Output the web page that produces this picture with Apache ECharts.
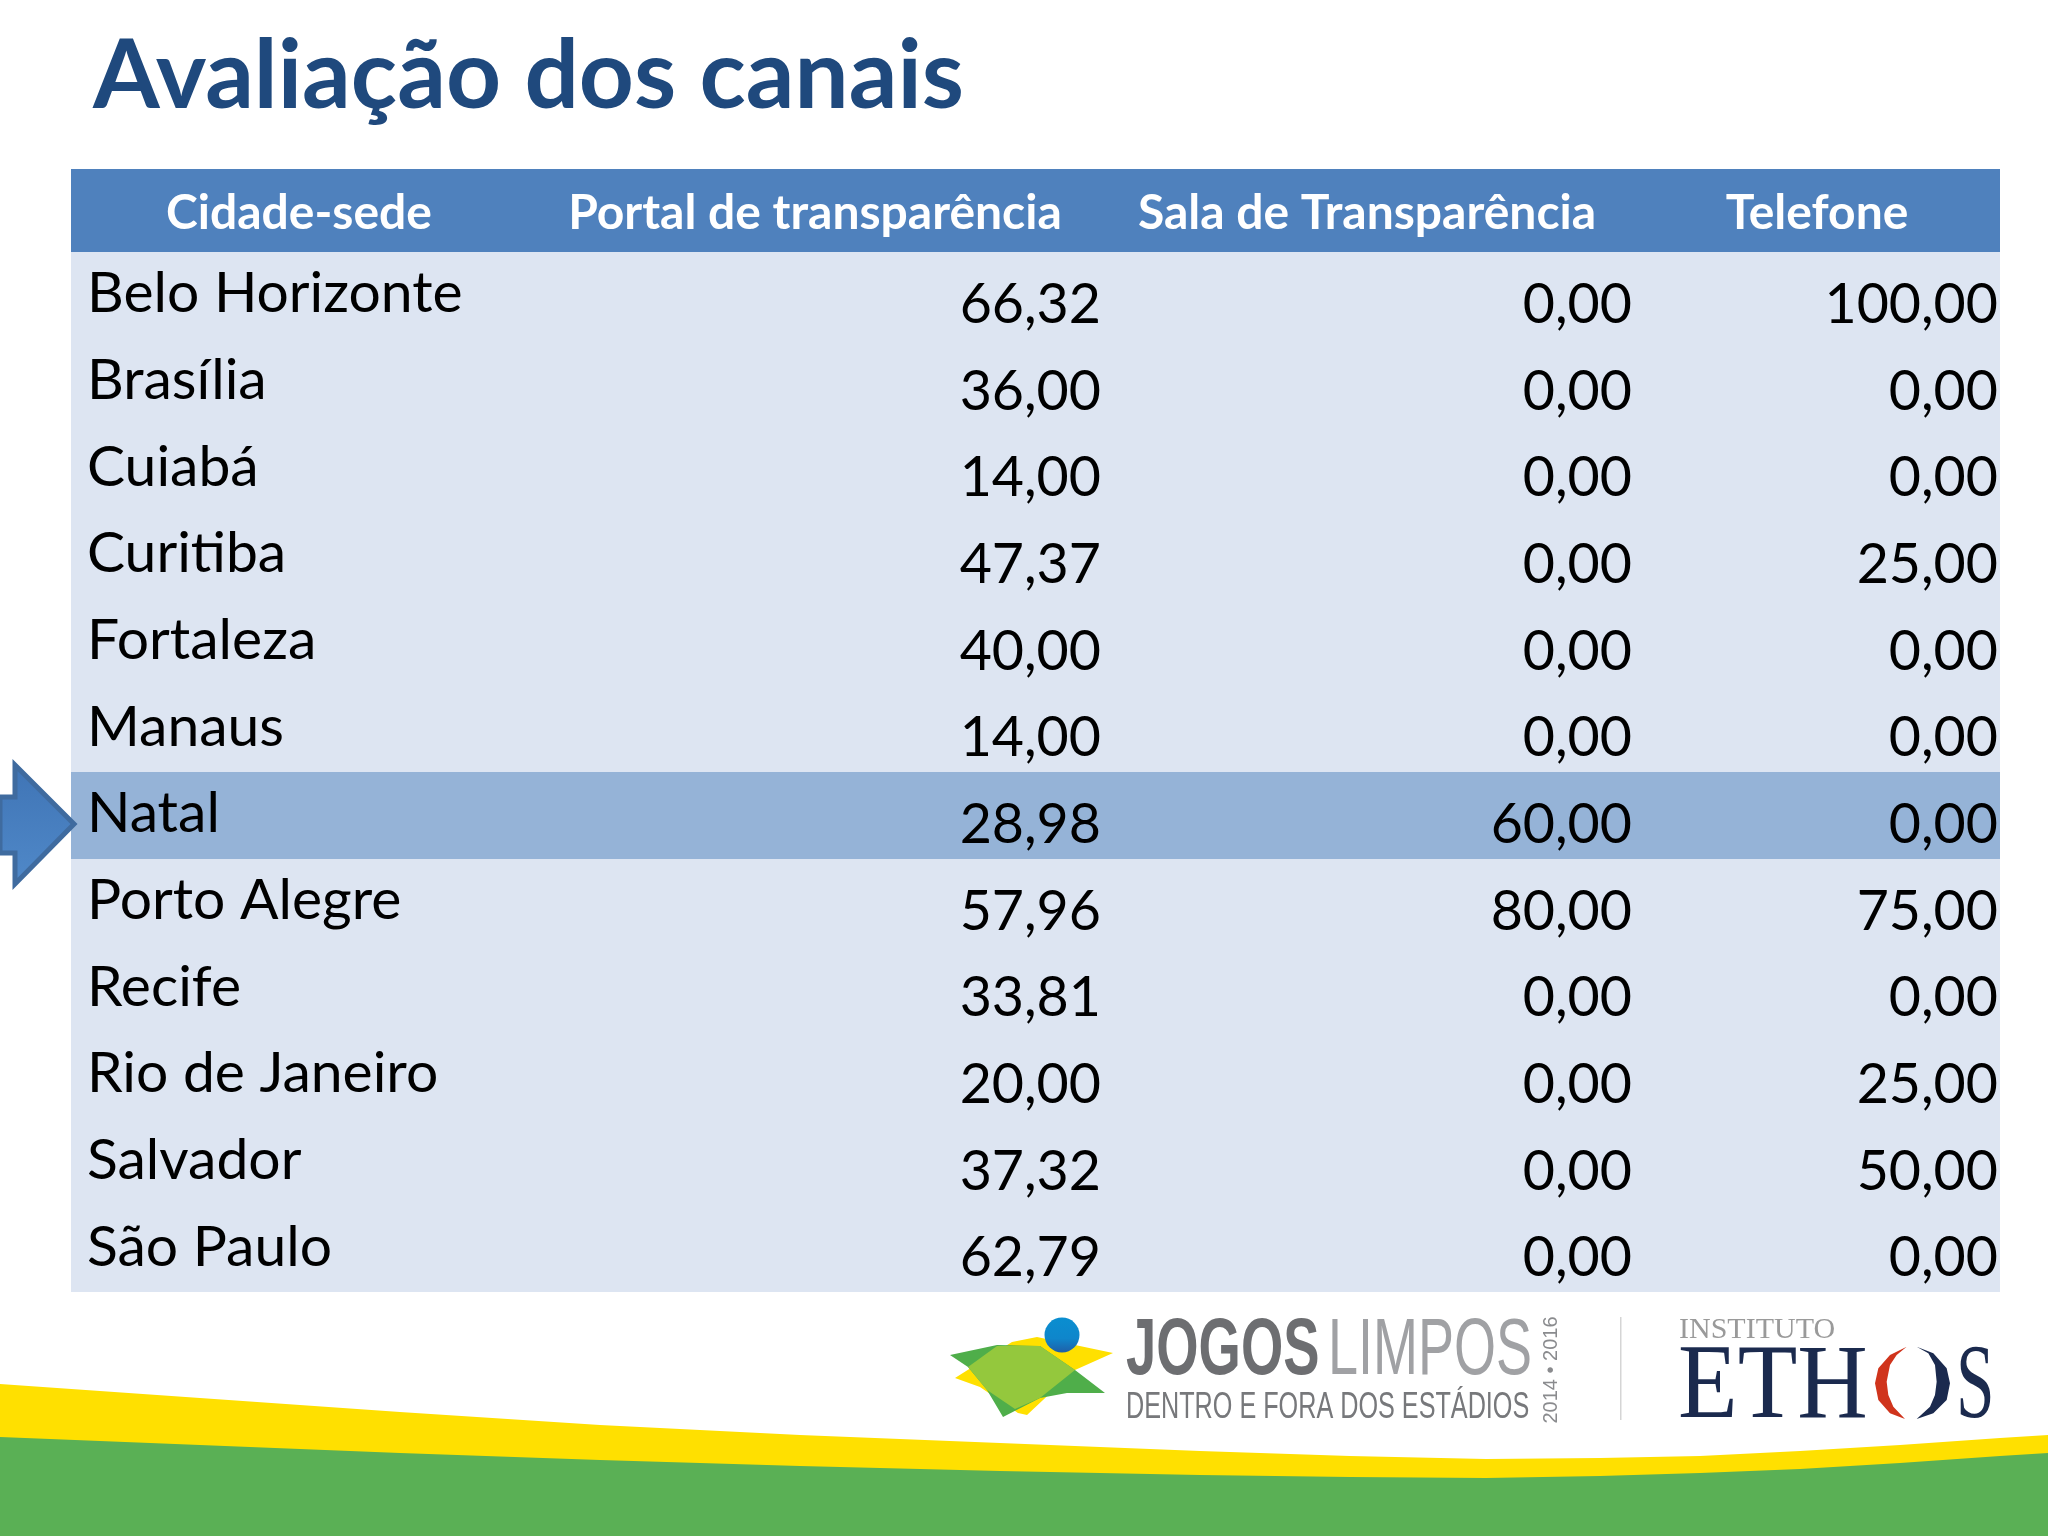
<!DOCTYPE html>
<html><head><meta charset="utf-8">
<style>html,body{margin:0;padding:0;background:#fff}#c{width:2048px;height:1536px}</style>
<script src="https://cdn.jsdelivr.net/npm/echarts@6/dist/echarts.min.js"></script>
</head><body><div id="c"></div>
<script>
const titleText = 'Avaliação dos canais';
const headers = ['Cidade-sede', 'Portal de transparência', 'Sala de Transparência', 'Telefone'];
const cities = ['Belo Horizonte','Brasília','Cuiabá','Curitiba','Fortaleza','Manaus','Natal','Porto Alegre','Recife','Rio de Janeiro','Salvador','São Paulo'];
const portal = [66.32,36.00,14.00,47.37,40.00,14.00,28.98,57.96,33.81,20.00,37.32,62.79];
const sala = [0,0,0,0,0,0,60,80,0,0,0,0];
const telefone = [100,0,0,25,0,0,0,75,0,25,50,0];
const highlightCity = 'Natal';

const FONT = 'Lato';
const tableLeft = 71, tableRight = 2000;
const headerCentres = [299, 815, 1367, 1817];
const valueRights = [1101, 1632, 1998];
const cityLeft = 87;
const fmt = v => v.toFixed(2).replace('.', ',');
const chart = echarts.init(document.getElementById('c'));

function renderRow(params, api) {
  const i = api.value(0);
  const a = api.coord([tableLeft, i]), b = api.coord([tableRight, i + 1]);
  const top = Math.round(a[1]), bottom = Math.round(b[1]);
  const kids = [{
    type: 'rect',
    shape: {x: a[0], y: top, width: b[0] - a[0], height: bottom - top},
    style: {fill: cities[i] === highlightCity ? '#95b3d7' : '#dde5f2'}
  }, {
    type: 'text', z2: 5,
    style: {x: cityLeft, y: a[1] + 42, text: cities[i], font: '57px ' + FONT, fill: '#000', align: 'left', verticalAlign: 'middle'}
  }];
  [portal[i], sala[i], telefone[i]].forEach((v, k) => kids.push({
    type: 'text', z2: 5,
    style: {x: valueRights[k], y: a[1] + 53, text: fmt(v), font: '55.5px ' + FONT, fill: '#000', align: 'right', verticalAlign: 'middle'}
  }));
  return {type: 'group', children: kids};
}
function renderHeader(params, api) {
  const a = api.coord([tableLeft, -0.958]), b = api.coord([tableRight, 0]);
  const kids = [{type: 'rect', shape: {x: a[0], y: a[1], width: b[0] - a[0], height: b[1] - a[1]}, style: {fill: '#4f81bd'}}];
  headers.forEach((h, k) => kids.push({
    type: 'text', z2: 5,
    style: {x: headerCentres[k], y: 214, text: h, font: 'bold 48px ' + FONT, fill: '#fff', align: 'center', verticalAlign: 'middle'}
  }));
  return {type: 'group', children: kids};
}
const zoomEthos = pts => pts.map(p => [1660 + p[0] / 3, 1300 + p[1] / 3]);
const deco = [
  {type:'polygon', z:1, shape:{points:[[0,1384],[100,1391],[200,1398],[400,1412],[600,1425],[800,1435],[1000,1443],[1200,1451],[1350,1456],[1486,1459],[1600,1458],[1700,1456],[1800,1451],[1900,1445],[2000,1438],[2048,1435],[2048,1536],[0,1536]]}, style:{fill:'#ffe000'}},
  {type:'polygon', z:2, shape:{points:[[0,1437],[200,1445],[400,1453],[600,1460],[800,1466],[1000,1471],[1200,1475],[1350,1477],[1486,1478],[1600,1476],[1700,1473],[1800,1469],[1900,1463],[2000,1456],[2048,1453],[2048,1536],[0,1536]]}, style:{fill:'#5ab055'}},
  {type:'polygon', z:20, shape:{points:[[0,797],[15,797],[15,765],[74,824],[15,884],[15,853],[0,853]]},
    style:{fill:new echarts.graphic.LinearGradient(0,0,0,1,[{offset:0,color:'#3f74b5'},{offset:1,color:'#5089c9'}]), stroke:'#3f6b9f', lineWidth:5}},
  // emblem
  {type:'polygon', z:3, shape:{points:[[955,1378],[1012,1342],[1037,1337],[1113,1353],[1075,1370],[1027,1415],[1018,1413],[980,1387]]}, style:{fill:'#ffe000'}},
  {type:'polygon', z:4, shape:{points:[[950,1355],[997,1345],[1040,1346],[1075,1370],[1105,1393],[1067,1393],[1040,1398],[1003,1417],[987,1390],[968,1367]]}, style:{fill:'#4fae4a'}},
  {type:'polygon', z:5, shape:{points:[[968,1367],[997,1346],[1040,1346],[1075,1370],[1040,1398],[1015,1409],[987,1390]]}, style:{fill:'#94c83d'}},
  {type:'circle', z:6, shape:{cx:1062,cy:1335,r:17.5}, style:{fill:new echarts.graphic.LinearGradient(0,0,0,1,[{offset:0,color:'#0a8ed0'},{offset:0.6,color:'#0f86cb'},{offset:1,color:'#1f5fa8'}])}},
  // logo text
  {type:'text', z:6, x:1126, y:1352, scaleX:0.68, style:{text:'JOGOS', font:'bold 80px "Liberation Sans"', fill:'#6d6e71', verticalAlign:'middle'}},
  {type:'text', z:6, x:1328, y:1352, scaleX:0.675, style:{text:'LIMPOS', font:'80px "Liberation Sans"', fill:'#a0a1a4', verticalAlign:'middle'}},
  {type:'text', z:6, x:1126, y:1408, scaleX:0.70, style:{text:'DENTRO E FORA DOS ESTÁDIOS', font:'36px "Liberation Sans"', fill:'#77787b', verticalAlign:'middle'}},
  {type:'text', z:6, x:1551, y:1370, rotation:Math.PI/2, style:{text:'2014 • 2016', font:'20px "Liberation Sans"', fill:'#8a8b8e', align:'center', verticalAlign:'middle'}},
  {type:'rect', z:6, shape:{x:1620,y:1317,width:1.5,height:103}, style:{fill:'#d5d5d5'}},
  {type:'text', z:6, x:1679, y:1330, style:{text:'INSTITUTO', font:'30px "Liberation Serif"', fill:'#9a9a9a', verticalAlign:'middle'}},
  {type:'text', z:6, x:1678, y:1389, scaleX:0.93, style:{text:'ETH', font:'105px "Liberation Serif"', fill:'#1b2a4e', verticalAlign:'middle'}},
  {type:'polygon', z:6, shape:{points:zoomEthos([[740,140],[690,165],[655,205],[645,250],[655,300],[690,340],[735,357],[700,320],[685,285],[680,245],[690,195],[710,165]])}, style:{fill:'#d0341c'}},
  {type:'polygon', z:6, shape:{points:zoomEthos([[770,140],[820,160],[860,205],[870,250],[860,300],[820,340],[770,357],[810,320],[825,285],[830,245],[825,195],[805,160]])}, style:{fill:'#1b2a4e'}},
  {type:'text', z:6, x:1956, y:1389, scaleX:0.66, style:{text:'S', font:'105px "Liberation Serif"', fill:'#1b2a4e', verticalAlign:'middle'}}
];
chart.setOption({
  animation: false,
  backgroundColor: '#fff',
  title: {text: titleText, left: 93, top: 29, padding: 0, textStyle: {fontFamily: FONT, fontWeight: 'bold', fontSize: 96, color: '#1f497d'}},
  grid: {left: 0, right: 0, top: 169, bottom: 244},
  xAxis: {type: 'value', min: 0, max: 2048, show: false},
  yAxis: {type: 'value', min: -0.958, max: 12, inverse: true, show: false},
  graphic: deco,
  series: [
    {type: 'custom', name: 'Cabeçalho', renderItem: renderHeader, data: [[0, 0]], clip: false, silent: true},
    {type: 'custom', name: 'Cidades', renderItem: renderRow, data: cities.map((c, i) => [i, portal[i], sala[i], telefone[i]]), encode: {y: 0}, clip: false, silent: true}
  ]
});
</script></body></html>
